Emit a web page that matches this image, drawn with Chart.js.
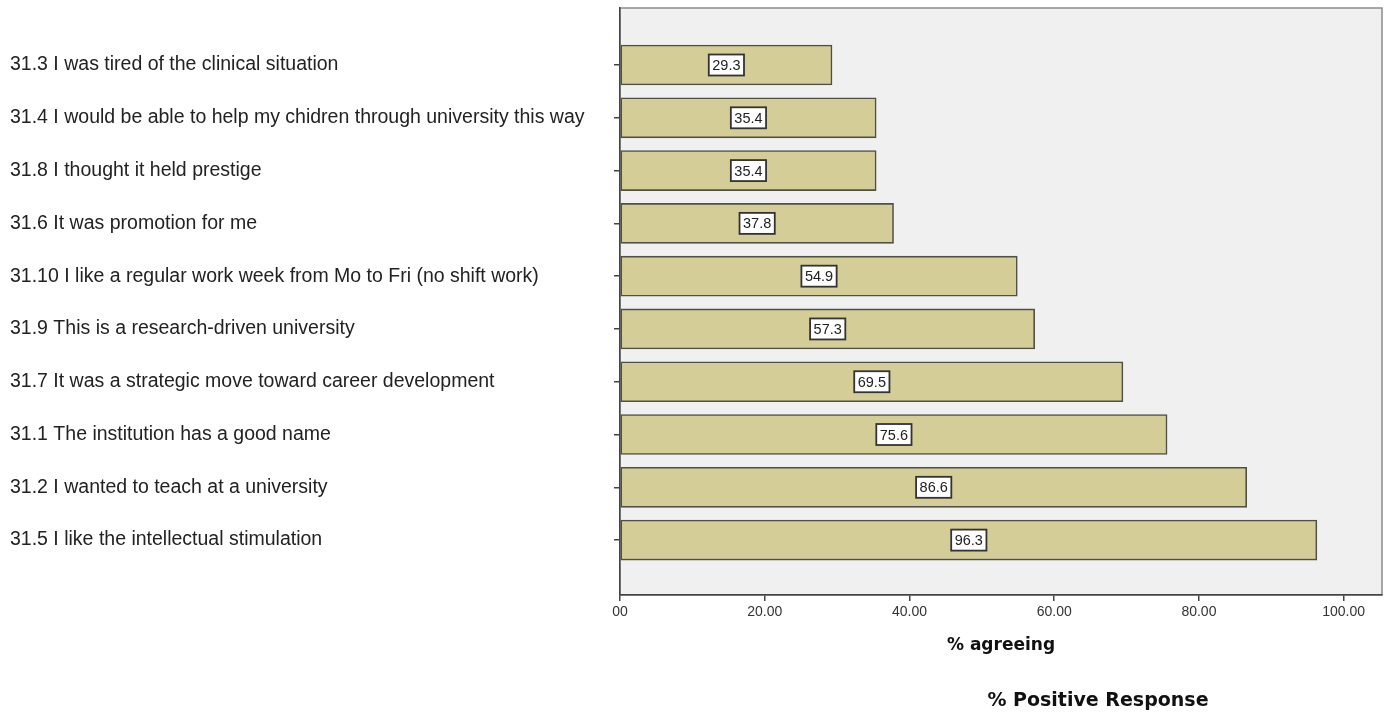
<!DOCTYPE html>
<html>
<head>
<meta charset="utf-8">
<script src="https://cdn.jsdelivr.net/npm/chart.js@4/dist/chart.umd.min.js"></script>
<style>
  html, body { margin: 0; padding: 0; background: #fff; }
  #wrap { position: relative; width: 1389px; height: 713px; }
  #caption {
    position: absolute; left: 0; width: 2196px; top: 688px;
    text-align: center; font: bold 19px "DejaVu Sans", sans-serif; color: #111;
  }
</style>
</head>
<body>
<div id="wrap">
  <canvas id="chart" width="1389" height="713"></canvas>
  <div id="caption">% Positive Response</div>
</div>
<script>
// ─── Data ─────────────────────────────────────────────────────────────────────
const categories = [
  '31.3 I was tired of the clinical situation',
  '31.4 I would be able to help my chidren through university this way',
  '31.8 I thought it held prestige',
  '31.6 It was promotion for me',
  '31.10 I like a regular work week from Mo to Fri (no shift work)',
  '31.9 This is a research-driven university',
  '31.7 It was a strategic move toward career development',
  '31.1 The institution has a good name',
  '31.2 I wanted to teach at a university',
  '31.5 I like the intellectual stimulation',
];
const agreeing = [29.3, 35.4, 35.4, 37.8, 54.9, 57.3, 69.5, 75.6, 86.6, 96.3];
const xTicks = [0, 20, 40, 60, 80, 100];
const xTickLabels = ['00', '20.00', '40.00', '60.00', '80.00', '100.00'];

// Plot background + frame
const plotFrame = {
  id: 'plotFrame',
  beforeDraw(chart) {
    const { ctx, chartArea: a } = chart;
    ctx.save();
    ctx.fillStyle = '#f0f0f0';
    ctx.fillRect(a.left, a.top, a.right - a.left, a.bottom - a.top);
    ctx.strokeStyle = '#8c8c8c';
    ctx.lineWidth = 1.5;
    ctx.strokeRect(a.left, a.top, a.right - a.left, a.bottom - a.top);
    ctx.restore();
  },
};

// Boxed value labels in the middle of each bar
const valueBoxes = {
  id: 'valueBoxes',
  afterDatasetsDraw(chart) {
    const { ctx } = chart;
    const meta = chart.getDatasetMeta(0);
    ctx.save();
    ctx.font = '14.5px "Liberation Sans", Arial, sans-serif';
    ctx.textAlign = 'center';
    ctx.textBaseline = 'middle';
    meta.data.forEach((bar, i) => {
      const text = agreeing[i].toFixed(1);
      const cx = (bar.x + bar.base) / 2;
      const cy = bar.y;
      const w = ctx.measureText(text).width + 7;
      const h = 21;
      ctx.fillStyle = '#ffffff';
      ctx.fillRect(cx - w / 2, cy - h / 2, w, h);
      ctx.strokeStyle = '#333';
      ctx.lineWidth = 1.8;
      ctx.strokeRect(cx - w / 2, cy - h / 2, w, h);
      ctx.fillStyle = '#222';
      ctx.fillText(text, cx, cy + 1);
    });
    ctx.restore();
  },
};

new Chart(document.getElementById('chart'), {
  type: 'bar',
  data: {
    datasets: [{
      data: agreeing.map((v, i) => ({ x: v, y: i })),
      backgroundColor: '#d4cd98',
      borderColor: '#4f4f44',
      borderWidth: 1.6,
      borderSkipped: false,
      barThickness: 40,
    }],
  },
  options: {
    indexAxis: 'y',
    responsive: false,
    animation: false,
    layout: { padding: { left: 10, right: 7, top: 8, bottom: 0 } },
    plugins: {
      legend: { display: false },
      tooltip: { enabled: false },
    },
    scales: {
      x: {
        type: 'linear',
        min: 0,
        max: 105.3,
        afterFit: (s) => { s.height = 118; s.paddingLeft = 0; s.paddingRight = 0; },
        afterBuildTicks: (s) => { s.ticks = xTicks.map(v => ({ value: v })); },
        border: { color: '#444', width: 1.5 },
        grid: { drawOnChartArea: false, tickLength: 6, color: '#444', lineWidth: 1.5 },
        ticks: {
          padding: 3,
          color: '#333',
          font: { family: 'Liberation Sans', size: 14 },
          maxRotation: 0,
          callback: (v) => xTickLabels[xTicks.indexOf(v)],
        },
        title: {
          display: true,
          text: '% agreeing',
          color: '#111',
          font: { family: 'DejaVu Sans', size: 17, weight: 'bold' },
          padding: { top: 0, bottom: 57 },
        },
      },
      y: {
        type: 'linear',
        reverse: true,
        offset: false,
        min: -1.08,
        max: 10.04,
        afterFit: (s) => { s.width = 610; s.paddingTop = 0; s.paddingBottom = 0; },
        afterBuildTicks: (s) => { s.ticks = categories.map((_, i) => ({ value: i })); },
        border: { color: '#444', width: 1.5 },
        grid: { offset: false, drawOnChartArea: false, tickLength: 6, color: '#444', lineWidth: 1.5 },
        ticks: {
          crossAlign: 'far',
          color: '#222',
          font: { family: 'Liberation Sans', size: 19.5 },
          callback: (v) => categories[v],
        },
      },
    },
  },
  plugins: [plotFrame, valueBoxes],
});
</script>
</body>
</html>
